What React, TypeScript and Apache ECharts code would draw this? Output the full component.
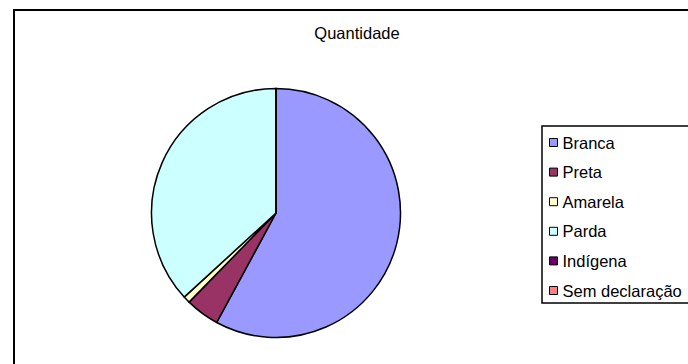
import React, { useEffect, useRef } from "react";
import * as echarts from "echarts";

// Distribution by self-declared colour/race
const categories = ["Branca", "Preta", "Amarela", "Parda", "Indígena", "Sem declaração"];
const quantities = [579, 44, 9, 368, 0, 0];
const colors = ["#9999FF", "#993366", "#FFFFCC", "#CCFFFF", "#660066", "#FF8080"];
const title = "Quantidade";

export default function App() {
  const ref = useRef<HTMLDivElement>(null);

  useEffect(() => {
    document.body.style.margin = "0";
    const chart = echarts.init(ref.current!, null, { renderer: "svg" });
    const font = "'Liberation Sans', Arial, sans-serif";
    chart.setOption({
      animation: false,
      backgroundColor: "#ffffff",
      graphic: [
        // chart area frame
        {
          type: "rect",
          shape: { x: 14, y: 10, width: 700, height: 400 },
          style: { fill: "none", stroke: "#000", lineWidth: 2 },
          silent: true,
          z: 0,
        },
        // legend frame, running past the right edge
        {
          type: "rect",
          shape: { x: 542, y: 126, width: 200, height: 177 },
          style: { fill: "none", stroke: "#000", lineWidth: 1.5 },
          silent: true,
          z: 0,
        },
      ],
      title: {
        text: title,
        left: 352,
        top: 19,
        textAlign: "center",
        textStyle: { fontFamily: font, fontSize: 16.5, fontWeight: "normal", color: "#000" },
      },
      legend: {
        orient: "vertical",
        left: 542,
        top: 126,
        padding: [8, 0, 8, 7],
        borderWidth: 0,
        itemWidth: 8,
        itemHeight: 8,
        itemGap: 12.6,
        icon: "rect",
        selectedMode: false,
        textStyle: { fontFamily: font, fontSize: 16.5, color: "#000" },
        itemStyle: { borderColor: "#000", borderWidth: 1 },
        data: categories,
      },
      series: [
        {
          type: "pie",
          center: [276, 213],
          radius: 124.5,
          startAngle: 90,
          clockwise: true,
          avoidLabelOverlap: false,
          label: { show: false },
          labelLine: { show: false },
          emphasis: { disabled: true },
          itemStyle: { borderColor: "#000", borderWidth: 1.5 },
          data: categories.map((name, i) => ({
            name,
            value: quantities[i],
            itemStyle: { color: colors[i] },
          })),
        },
      ],
    });
    return () => chart.dispose();
  }, []);

  return (
    <div
      ref={ref}
      style={{ position: "absolute", left: 0, top: 0, width: 688, height: 364 }}
    />
  );
}
